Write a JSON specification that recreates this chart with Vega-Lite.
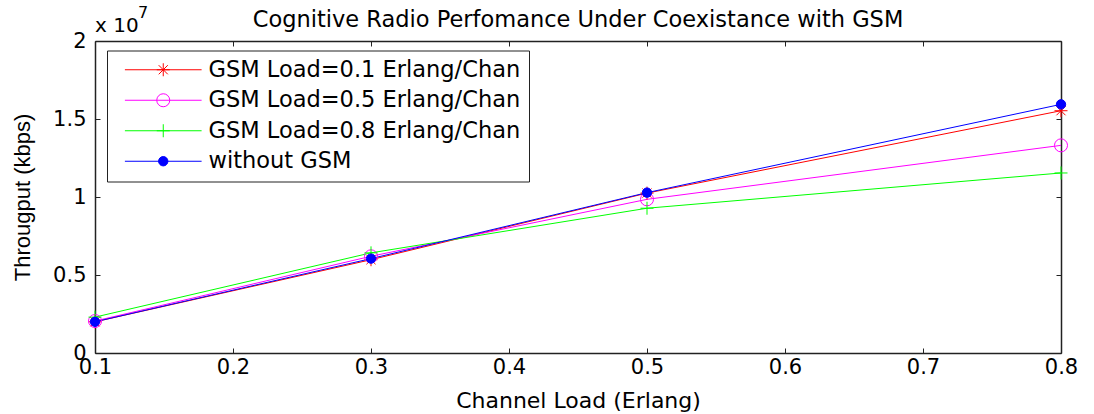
{
  "$schema": "https://vega.github.io/schema/vega-lite/v6.json",
  "width": 966,
  "height": 312,
  "autosize": {"type": "none"},
  "padding": {"left": 95, "top": 41, "right": 33, "bottom": 61},
  "background": "white",
  "config": {"view": {"stroke": null}, "font": "DejaVu Sans"},
  "title": {
    "text": "Cognitive Radio Perfomance Under Coexistance with GSM",
    "font": "DejaVu Sans",
    "fontSize": 22.5,
    "fontWeight": "normal",
    "color": "black",
    "anchor": "middle",
    "frame": "group",
    "baseline": "alphabetic",
    "offset": -44
  },
  "data": {
    "values": [
      {"load": 0.1, "throughput": 2000000, "series": "GSM Load=0.1 Erlang/Chan"},
      {"load": 0.3, "throughput": 5980000, "series": "GSM Load=0.1 Erlang/Chan"},
      {"load": 0.5, "throughput": 10250000, "series": "GSM Load=0.1 Erlang/Chan"},
      {"load": 0.8, "throughput": 15530000, "series": "GSM Load=0.1 Erlang/Chan"},
      {"load": 0.1, "throughput": 2050000, "series": "GSM Load=0.5 Erlang/Chan"},
      {"load": 0.3, "throughput": 6200000, "series": "GSM Load=0.5 Erlang/Chan"},
      {"load": 0.5, "throughput": 9850000, "series": "GSM Load=0.5 Erlang/Chan"},
      {"load": 0.8, "throughput": 13310000, "series": "GSM Load=0.5 Erlang/Chan"},
      {"load": 0.1, "throughput": 2300000, "series": "GSM Load=0.8 Erlang/Chan"},
      {"load": 0.3, "throughput": 6420000, "series": "GSM Load=0.8 Erlang/Chan"},
      {"load": 0.5, "throughput": 9280000, "series": "GSM Load=0.8 Erlang/Chan"},
      {"load": 0.8, "throughput": 11540000, "series": "GSM Load=0.8 Erlang/Chan"},
      {"load": 0.1, "throughput": 2000000, "series": "without GSM"},
      {"load": 0.3, "throughput": 6050000, "series": "without GSM"},
      {"load": 0.5, "throughput": 10280000, "series": "without GSM"},
      {"load": 0.8, "throughput": 15940000, "series": "without GSM"}
    ]
  },
  "layer": [
    {
      "mark": {"type": "line", "strokeWidth": 1, "clip": false},
      "encoding": {
        "x": {
          "field": "load", "type": "quantitative",
          "scale": {"domain": [0.1, 0.8], "nice": false, "zero": false},
          "axis": {
            "orient": "bottom", "values": [0.1, 0.2, 0.3, 0.4, 0.5, 0.6, 0.7, 0.8], "format": ".1f",
            "labelFont": "DejaVu Sans", "labelFontSize": 21, "labelColor": "black", "labelPadding": 8,
            "labelFlush": false, "labelOverlap": false,
            "tickSize": -5, "tickColor": "#222222", "tickWidth": 1,
            "domainColor": "#222222", "domainWidth": 1.5, "grid": false,
            "title": "Channel Load (Erlang)", "titleFont": "DejaVu Sans", "titleFontSize": 22,
            "titleFontWeight": "normal", "titleColor": "black", "titlePadding": 13
          }
        },
        "y": {
          "field": "throughput", "type": "quantitative",
          "scale": {"domain": [0, 20000000], "nice": false},
          "axis": {
            "orient": "left", "values": [0, 5000000, 10000000, 15000000, 20000000],
            "labelExpr": "datum.value / 10000000",
            "labelFont": "DejaVu Sans", "labelFontSize": 21, "labelColor": "black", "labelPadding": 14,
            "labelFlush": false, "labelOverlap": false,
            "tickSize": -5, "tickColor": "#222222", "tickWidth": 1,
            "domainColor": "#222222", "domainWidth": 1.5, "grid": false,
            "title": "Througput (kbps)", "titleFont": "Liberation Sans", "titleFontSize": 22,
            "titleFontWeight": "normal", "titleColor": "black", "titlePadding": 18
          }
        },
        "color": {
          "field": "series", "type": "nominal",
          "scale": {"range": ["#ff0000", "#ff00ff", "#00ff00", "#0000ff"]},
          "legend": {
            "title": null, "orient": "none", "legendX": 12, "legendY": 9.5,
            "padding": 8, "rowPadding": 7.5,
            "symbolType": "M-5.9,0L5.9,0", "symbolSize": 169, "symbolStrokeWidth": 1,
            "symbolOffset": 37, "labelOffset": 34,
            "labelFont": "DejaVu Sans", "labelFontSize": 22.5, "labelColor": "black", "labelLimit": 0,
            "strokeColor": "#222222"
          }
        }
      }
    },
    {
      "mark": {"type": "point", "size": 169, "strokeWidth": 1, "opacity": 1, "clip": false},
      "encoding": {
        "x": {
          "field": "load", "type": "quantitative",
          "axis": {
            "orient": "top", "values": [0.1, 0.2, 0.3, 0.4, 0.5, 0.6, 0.7, 0.8], "labels": false, "title": null,
            "tickSize": -5, "tickColor": "#222222", "tickWidth": 1,
            "domainColor": "#222222", "domainWidth": 1.5, "grid": false
          }
        },
        "y": {
          "field": "throughput", "type": "quantitative",
          "axis": {
            "orient": "right", "values": [0, 5000000, 10000000, 15000000, 20000000], "labels": false, "title": null,
            "tickSize": -5, "tickColor": "#222222", "tickWidth": 1,
            "domainColor": "#222222", "domainWidth": 1.5, "grid": false
          }
        },
        "stroke": {
          "field": "series", "type": "nominal",
          "scale": {
            "domain": ["GSM Load=0.1 Erlang/Chan", "GSM Load=0.5 Erlang/Chan", "GSM Load=0.8 Erlang/Chan", "without GSM"],
            "range": ["#ff0000", "#ff00ff", "#00ff00", "#0000ff"]
          },
          "legend": null
        },
        "fill": {
          "field": "series", "type": "nominal",
          "scale": {
            "domain": ["GSM Load=0.1 Erlang/Chan", "GSM Load=0.5 Erlang/Chan", "GSM Load=0.8 Erlang/Chan", "without GSM"],
            "range": ["transparent", "transparent", "transparent", "#0000ff"]
          },
          "legend": null
        },
        "shape": {
          "field": "series", "type": "nominal",
          "scale": {
            "domain": ["GSM Load=0.1 Erlang/Chan", "GSM Load=0.5 Erlang/Chan", "GSM Load=0.8 Erlang/Chan", "without GSM"],
            "range": [
              "M-1,0L1,0M0,-1L0,1M-0.7,-0.7L0.7,0.7M-0.7,0.7L0.7,-0.7",
              "circle",
              "M-1,0L1,0M0,-1L0,1",
              "M-0.72,0A0.72,0.72,0,1,1,0.72,0A0.72,0.72,0,1,1,-0.72,0Z"
            ]
          },
          "legend": {
            "title": null, "orient": "none", "legendX": 12, "legendY": 9.5,
            "padding": 8, "rowPadding": 7.5,
            "symbolSize": 169, "symbolStrokeWidth": 1,
            "symbolOffset": 37, "labelOffset": 34,
            "labelFont": "DejaVu Sans", "labelFontSize": 22.5, "labelColor": "black", "labelLimit": 0,
            "labelOpacity": 0,
            "encode": {
              "symbols": {
                "update": {
                  "stroke": {"scale": "stroke", "field": "value"},
                  "fill": {"scale": "fill", "field": "value"},
                  "opacity": {"value": 1}
                }
              }
            }
          }
        }
      }
    },
    {
      "data": {"values": [{"label": "x 10"}]},
      "mark": {"type": "text", "font": "DejaVu Sans", "fontSize": 20, "align": "left", "baseline": "alphabetic", "dy": -9, "color": "black"},
      "encoding": {
        "text": {"field": "label", "type": "nominal"},
        "x": {"datum": 0.1, "type": "quantitative", "axis": null},
        "y": {"datum": 20000000, "type": "quantitative", "axis": null}
      }
    },
    {
      "data": {"values": [{"label": "7"}]},
      "mark": {"type": "text", "font": "DejaVu Sans", "fontSize": 16, "align": "left", "baseline": "alphabetic", "dx": 43, "dy": -22.7, "color": "black"},
      "encoding": {
        "text": {"field": "label", "type": "nominal"},
        "x": {"datum": 0.1, "type": "quantitative", "axis": null},
        "y": {"datum": 20000000, "type": "quantitative", "axis": null}
      }
    }
  ],
  "resolve": {"axis": {"x": "independent", "y": "independent"}}
}
